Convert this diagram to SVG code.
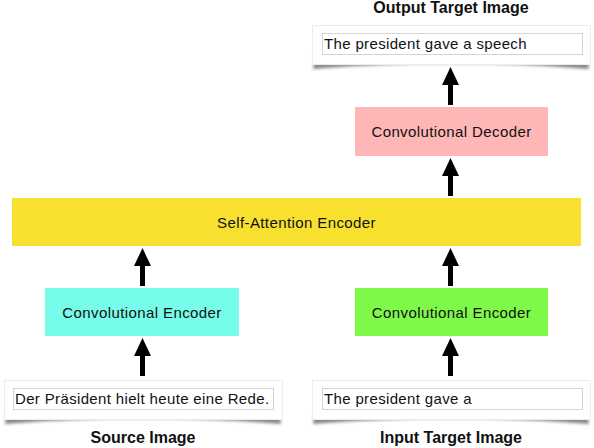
<svg xmlns="http://www.w3.org/2000/svg" width="594" height="448" viewBox="0 0 594 448">
<defs>
<style>
.lbl{font-family:"Liberation Sans",Arial,sans-serif;font-size:15px;letter-spacing:0.4px;fill:#111;text-anchor:middle}
.title{font-family:"Liberation Sans",Arial,sans-serif;font-size:16px;font-weight:bold;fill:#111;text-anchor:middle}
.txt{font-family:"Liberation Sans",Arial,sans-serif;font-size:15px;letter-spacing:0.35px;fill:#111}
.card{fill:#fff;stroke:#ececec;stroke-width:1}
.field{fill:#fff;stroke:#d4d4d4;stroke-width:1}
.shadow{fill:#888;filter:url(#blur)}
.arr{stroke:#000;stroke-width:5;fill:none;marker-end:url(#ah)}
</style>
<filter id="blur" x="-10%" y="-100%" width="120%" height="300%"><feGaussianBlur stdDeviation="1.8"/></filter>
<marker id="ah" markerUnits="userSpaceOnUse" markerWidth="18" markerHeight="18" refX="0" refY="8.5" viewBox="0 0 18 17" orient="auto">
<path d="M0,0 L18,8.5 L0,17 Z" fill="#000"/>
</marker>
</defs>
<g id="source-image">
<path class="shadow" d="M7,410 L279,410 L281,424 Q143,413 5,424 Z"/>
<rect class="card" x="4.5" y="380.5" width="278" height="39"/>
<rect class="field" x="13.5" y="388.5" width="260" height="21"/>
<text class="txt" x="15" y="403.5">Der Präsident hielt heute eine Rede.</text>
<text class="title" x="143" y="443">Source Image</text>
</g>
<g id="input-target-image">
<path class="shadow" d="M315,410 L587,410 L589,424 Q451,413 313,424 Z"/>
<rect class="card" x="312.5" y="380.5" width="278" height="39"/>
<rect class="field" x="322.5" y="388.5" width="260" height="21"/>
<text class="txt" x="324" y="403.5">The president gave a</text>
<text class="title" x="451" y="443">Input Target Image</text>
</g>
<g id="output-target-image">
<path class="shadow" d="M315,55 L587,55 L589,69 Q451,58 313,69 Z"/>
<rect class="card" x="312.5" y="25.5" width="278" height="39"/>
<rect class="field" x="322.5" y="33.5" width="260" height="21"/>
<text class="txt" x="324" y="49">The president gave a speech</text>
<text class="title" x="451" y="13">Output Target Image</text>
</g>
<g id="conv-encoder-source">
<rect x="45" y="288" width="194" height="48" fill="#76fce8"/>
<text class="lbl" x="142" y="318">Convolutional Encoder</text>
</g>
<g id="conv-encoder-target">
<rect x="355" y="288" width="193" height="48" fill="#80f84a"/>
<text class="lbl" x="451.5" y="318">Convolutional Encoder</text>
</g>
<g id="self-attention-encoder">
<rect x="12" y="198" width="569" height="48" fill="#f8e02f"/>
<text class="lbl" x="296.5" y="228">Self-Attention Encoder</text>
</g>
<g id="conv-decoder">
<rect x="355" y="107" width="193" height="49" fill="#ffb6b6"/>
<text class="lbl" x="451.5" y="137">Convolutional Decoder</text>
</g>
<g id="connectors">
<path class="arr" d="M142.5,376 V356"/>
<path class="arr" d="M142.5,286 V266"/>
<path class="arr" d="M450.5,376 V356"/>
<path class="arr" d="M450.5,286 V266"/>
<path class="arr" d="M450.5,196 V176"/>
<path class="arr" d="M450.5,105 V85"/>
</g>
</svg>
